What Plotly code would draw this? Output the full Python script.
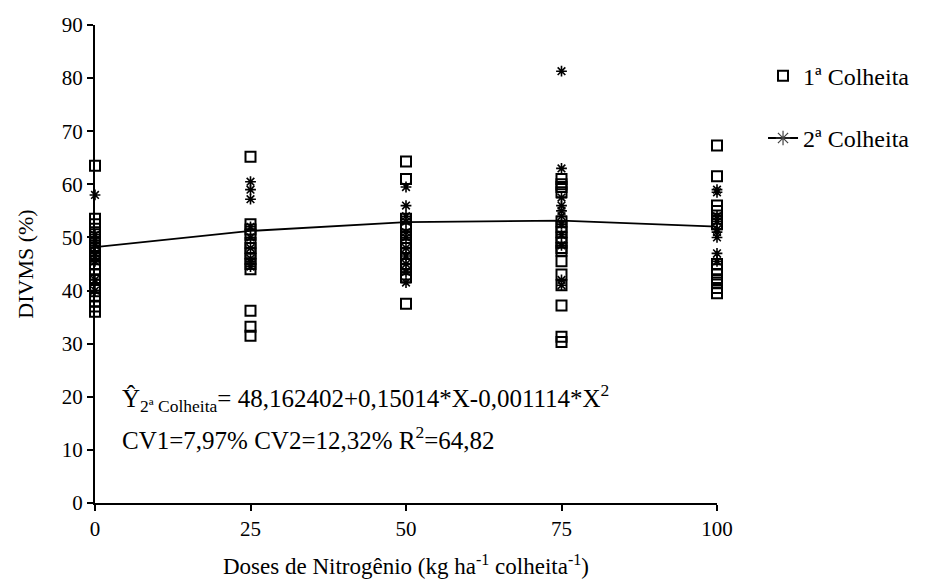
import plotly.graph_objects as go

doses = [0, 25, 50, 75, 100]

c1_d0 = [63.5, 53.5, 52.5, 51, 50, 49, 48, 47.5, 46.5, 45, 44, 43, 42, 40.5, 39, 38, 37, 36]
c1_d25 = [65.2, 52.5, 51.5, 50.5, 49, 48, 47, 46, 45, 44, 36.2, 33.2, 31.5]
c1_d50 = [64.3, 61, 53.5, 52, 50.5, 49, 48, 47, 46, 45, 44, 43, 42.5, 37.5]
c1_d75 = [61, 60, 59.5, 58.5, 53, 52, 51, 50, 49, 48, 47.5, 45.5, 43, 41, 37.2, 31.3, 30.3]
c1_d100 = [67.3, 61.5, 56, 55, 53.5, 52.5, 45, 44, 43, 42, 41.5, 40.5, 39.5]

# 2ª Colheita observations
c2_d0 = [58, 50.5, 49.5, 48.5, 47, 46, 45.5, 42, 40]
c2_d25 = [60.5, 59, 57.2, 52, 50, 48, 46, 45.5, 44.5]
c2_d50 = [59.5, 56, 54, 53, 51, 50, 48, 46.5, 45, 43.5, 41.5]
c2_d75 = [81.3, 63, 57.5, 56, 55, 54, 52.5, 50.5, 48.5, 42, 41]
c2_d100 = [59, 58.5, 54, 53, 51.5, 51, 50, 47, 45.5]

# fitted curve values (2ª Colheita)
fit_vals = [48.16, 51.22, 52.88, 53.16, 52.04]

c1 = [c1_d0, c1_d25, c1_d50, c1_d75, c1_d100]
c2 = [c2_d0, c2_d25, c2_d50, c2_d75, c2_d100]

def flatten(groups):
    xs, ys = [], []
    for d, g in zip(doses, groups):
        xs += [d] * len(g)
        ys += g
    return xs, ys

x1, y1 = flatten(c1)
x2, y2 = flatten(c2)

FONT = "'Times New Roman', 'Liberation Serif', 'DejaVu Serif', serif"

fig = go.Figure()
fig.add_trace(go.Scatter(
    x=x1, y=y1, mode="markers", name="1ª Colheita",
    marker=dict(symbol="square-open", size=10, color="black", line=dict(width=2, color="black")),
    cliponaxis=False, legendgroup="a"))
fig.add_trace(go.Scatter(
    x=x2, y=y2, mode="markers", showlegend=False,
    marker=dict(symbol="asterisk-open", size=9, color="black", line=dict(width=1.6, color="black")),
    cliponaxis=False))
fig.add_trace(go.Scatter(
    x=doses, y=fit_vals, mode="lines", showlegend=False,
    line=dict(color="black", width=1.8), cliponaxis=False))
fig.add_trace(go.Scatter(
    x=[None], y=[None], mode="lines+markers", name="2ª Colheita", legendgroup="b",
    line=dict(color="black", width=1.8),
    marker=dict(symbol="asterisk-open", size=12, color="#444", line=dict(width=1.2, color="#444"))))

fig.add_annotation(x=4, y=19.8, xref="x", yref="y", xanchor="left", yanchor="middle",
                   text="Ŷ<sub>2ª Colheita</sub>= 48,162402+0,15014*X-0,001114*X<sup>2</sup>",
                   showarrow=False, font=dict(family=FONT, size=25, color="black"))
fig.add_annotation(x=4, y=12.2, xref="x", yref="y", xanchor="left", yanchor="middle",
                   text="CV1=7,97% CV2=12,32% R<sup>2</sup>=64,82",
                   showarrow=False, font=dict(family=FONT, size=25, color="black"))

axis_common = dict(showgrid=False, zeroline=False, showline=True, linecolor="black", linewidth=2,
                   ticks="outside", ticklen=6, tickwidth=2, tickcolor="black", automargin=False,
                   tickfont=dict(family=FONT, size=21, color="black"))

fig.update_xaxes(range=[0, 100], tickvals=doses, ticktext=[str(d) for d in doses],
                 title=dict(text="Doses de Nitrogênio (kg ha<sup>-1</sup> colheita<sup>-1</sup>)",
                            font=dict(family=FONT, size=23, color="black"), standoff=18),
                 **axis_common)
fig.update_yaxes(range=[0, 90], dtick=10,
                 title=dict(text="DIVMS (%)", font=dict(family=FONT, size=22, color="black"), standoff=22),
                 **axis_common)

fig.update_layout(
    width=932, height=584,
    margin=dict(l=95, r=215, t=25, b=81),
    plot_bgcolor="white", paper_bgcolor="white",
    font=dict(family=FONT, color="black"),
    legend=dict(x=1.074, y=0.94, xanchor="left", yanchor="top",
                font=dict(family=FONT, size=24, color="black"),
                tracegroupgap=28, bgcolor="rgba(0,0,0,0)"),
)

fig.write_html("out.html")
